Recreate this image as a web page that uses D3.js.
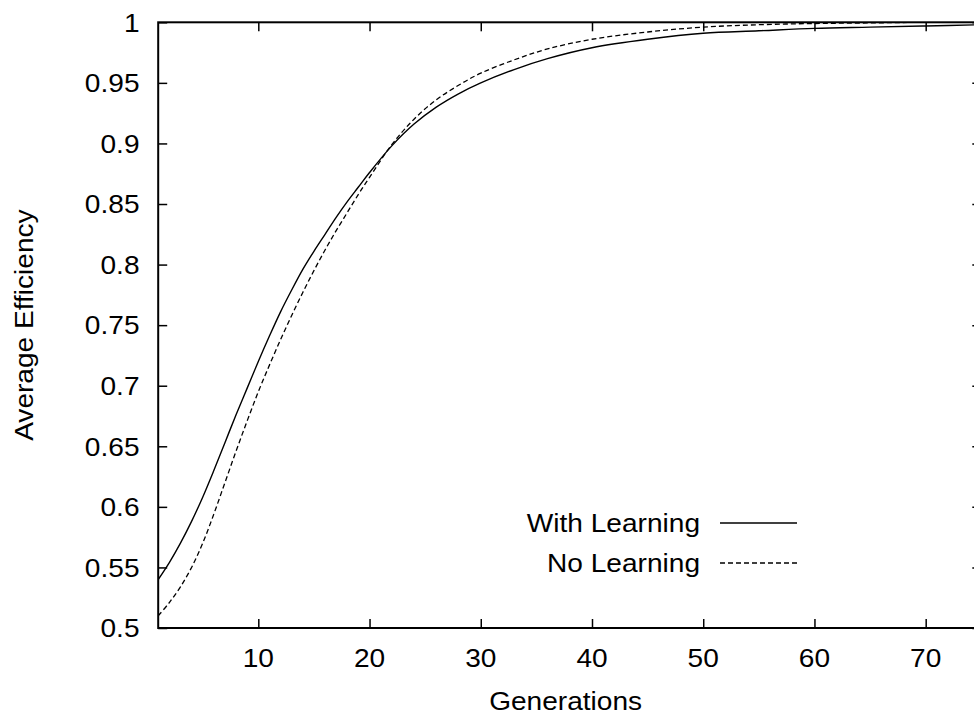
<!DOCTYPE html>
<html>
<head>
<meta charset="utf-8">
<script src="https://cdn.jsdelivr.net/npm/d3@7"></script>
<style>
  body { margin: 0; background: #fff; }
  text { font-family: "Liberation Sans", Arial, Helvetica, sans-serif; fill: #000; }
</style>
</head>
<body>
<svg id="chart"></svg>
<script>
// chart size
let width = 974, height = 717;

// data
const generations = [1, 2, 3, 4, 5, 6, 7, 8, 9, 10, 11, 12, 13, 14, 15, 16, 17, 18, 19, 20,
  22, 24, 26, 28, 30, 33, 36, 40, 45, 50, 55, 60, 65, 70, 75];
const withLearning = [0.540, 0.554, 0.570, 0.588, 0.608, 0.630, 0.653, 0.676, 0.698, 0.720,
  0.741, 0.761, 0.779, 0.796, 0.811, 0.825, 0.839, 0.852, 0.864, 0.876,
  0.898, 0.916, 0.930, 0.941, 0.950, 0.961, 0.970, 0.979, 0.986, 0.991, 0.993, 0.995, 0.996, 0.997, 0.998];
const noLearning = [0.510, 0.521, 0.534, 0.550, 0.570, 0.594, 0.620, 0.646, 0.671, 0.695,
  0.717, 0.738, 0.758, 0.777, 0.795, 0.812, 0.828, 0.843, 0.858, 0.872,
  0.899, 0.920, 0.936, 0.948, 0.958, 0.969, 0.978, 0.986, 0.992, 0.996, 0.998, 0.999, 0.9995, 1.0, 1.0];

const xTicks = [10, 20, 30, 40, 50, 60, 70];
const yTicks = [0.5, 0.55, 0.6, 0.65, 0.7, 0.75, 0.8, 0.85, 0.9, 0.95, 1];
const yTickLabels = ["0.5", "0.55", "0.6", "0.65", "0.7", "0.75", "0.8", "0.85", "0.9", "0.95", "1"];
const seriesNames = ["With Learning", "No Learning"];

// plot box
let plotLeft = 158.2, plotRight = 981.3, plotTop = 22.3, plotBottom = 628;
let stretch = 1.08, fontSize = 26, tickLen = 9;

let svg = d3.select("#chart")
  .attr("width", width)
  .attr("height", height);

svg.append("rect").attr("width", width).attr("height", height).attr("fill", "#fff");

let x = d3.scaleLinear().domain([1, 75]).range([plotLeft, plotRight]);
let y = d3.scaleLinear().domain([0.5, 1]).range([plotBottom, plotTop]);

// helper for the slightly wide gnuplot text
function label(px, py, str, anchor, rotate) {
  let t = "translate(" + px + "," + py + ")" + (rotate ? " rotate(-90)" : "") + " scale(" + stretch + ",1)";
  return svg.append("text")
    .attr("transform", t)
    .attr("text-anchor", anchor)
    .style("font-size", fontSize + "px")
    .text(str);
}

// ticks on all four sides, pointing inward
function styleAxis(g) {
  g.select(".domain").remove();
  g.selectAll("line").attr("stroke", "#000").attr("stroke-width", 1.5);
}
svg.append("g").attr("transform", "translate(0," + plotBottom + ")")
  .call(d3.axisBottom(x).tickValues(xTicks).tickSizeInner(-tickLen).tickSizeOuter(0).tickFormat(""))
  .call(styleAxis);
svg.append("g").attr("transform", "translate(0," + plotTop + ")")
  .call(d3.axisTop(x).tickValues(xTicks).tickSizeInner(-tickLen).tickSizeOuter(0).tickFormat(""))
  .call(styleAxis);
svg.append("g").attr("transform", "translate(" + plotLeft + ",0)")
  .call(d3.axisLeft(y).tickValues(yTicks).tickSizeInner(-tickLen).tickSizeOuter(0).tickFormat(""))
  .call(styleAxis);
svg.append("g").attr("transform", "translate(" + plotRight + ",0)")
  .call(d3.axisRight(y).tickValues(yTicks).tickSizeInner(-tickLen).tickSizeOuter(0).tickFormat(""))
  .call(styleAxis);

// tick labels
xTicks.forEach(v => label(x(v), 667, String(v), "middle"));
yTicks.forEach((v, i) => label(139.5, y(v) + 9.3, yTickLabels[i], "end"));

// axis titles
label((plotLeft + 973) / 2, 710, "Generations", "middle");
label(33, (plotTop + plotBottom) / 2, "Average Efficiency", "middle", true);

// clip and curves
svg.append("clipPath").attr("id", "plotClip")
  .append("rect").attr("x", plotLeft).attr("y", plotTop)
  .attr("width", plotRight - plotLeft).attr("height", plotBottom - plotTop);

let line = d3.line()
  .x(d => x(d[0]))
  .y(d => y(d[1]))
  .curve(d3.curveCatmullRom);

let solidData = generations.map((g, i) => [g, withLearning[i]]);
let dashedData = generations.map((g, i) => [g, noLearning[i]]);

svg.append("path")
  .datum(solidData)
  .attr("clip-path", "url(#plotClip)")
  .attr("d", line)
  .attr("fill", "none")
  .attr("stroke", "#000")
  .attr("stroke-width", 1.4);

svg.append("path")
  .datum(dashedData)
  .attr("clip-path", "url(#plotClip)")
  .attr("d", line)
  .attr("fill", "none")
  .attr("stroke", "#000")
  .attr("stroke-width", 1.3)
  .attr("stroke-dasharray", "5,3");

// plot border
svg.append("rect")
  .attr("x", plotLeft).attr("y", plotTop)
  .attr("width", plotRight - plotLeft).attr("height", plotBottom - plotTop)
  .attr("fill", "none")
  .attr("stroke", "#000")
  .attr("stroke-width", 2);

// legend
let legendY = [523, 563];
seriesNames.forEach((name, i) => {
  label(700, legendY[i] + 9.3, name, "end");
  svg.append("line")
    .attr("x1", 720).attr("x2", 797)
    .attr("y1", legendY[i]).attr("y2", legendY[i])
    .attr("stroke", "#000")
    .attr("stroke-width", 1.3)
    .attr("stroke-dasharray", i === 1 ? "5,3" : null);
});
</script>
</body>
</html>
